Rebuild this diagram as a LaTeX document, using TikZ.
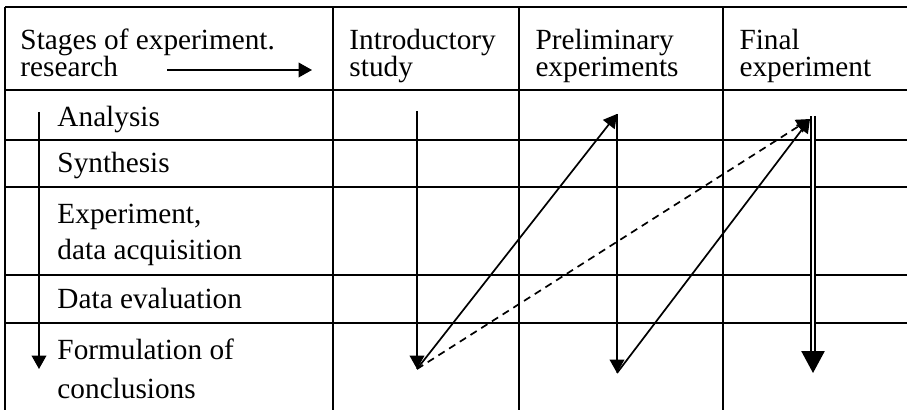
\documentclass[tikz,border=0pt]{standalone}
\usepackage{fontspec}
\setmainfont{Liberation Serif}
\usetikzlibrary{arrows.meta, calc}
\tikzset{
  >=latex,
  % Celle della tabella
  cell/.style={anchor=base west, inner sep=0, font=\fontsize{12}{14}\selectfont},
  grid line/.style={line width=1pt},
  % Frecce
  connect arrow/.style={-{Triangle[length=5.5pt,width=6pt]}, line width=0.7pt},
  connect dashed/.style={connect arrow, dash pattern=on 3pt off 2.2pt},
  connect double/.style={double, line width=0.7pt, double distance=1.2pt},
  big tip/.style={-{Triangle[length=9pt,width=9.5pt]}, line width=0.7pt}
}

\begin{document}
\begin{tikzpicture}[x=0.41pt, y=-0.41pt]
    \useasboundingbox (0,0) rectangle (907,410);
    \foreach \y in {7,90,140,187,275,323}
      \draw[grid line] (5,\y) -- (907,\y);
    \foreach \x in {5,333,519,723}
      \draw[grid line] (\x,7) -- (\x,410);

    \node[cell] (stages) at (20,50) {Stages of experiment.};
    \node[cell] (research) at (20,77) {research};
    \node[cell] (intro) at (349,50) {Introductory};
    \node[cell] (study) at (349,77) {study};
    \node[cell] (prelim) at (535,50) {Preliminary};
    \node[cell] (prelimexp) at (535,77) {experiments};
    \node[cell] (final) at (739,50) {Final};
    \node[cell] (finalexp) at (739,77) {experiment};

    \node[cell] (analysis) at (57,127) {Analysis};
    \node[cell] (synthesis) at (57,173) {Synthesis};
    \node[cell] (experiment) at (57,224) {Experiment,};
    \node[cell] (acquisition) at (57,260) {data acquisition};
    \node[cell] (evaluation) at (57,309) {Data evaluation};
    \node[cell] (formulation) at (57,359) {Formulation of};
    \node[cell] (conclusions) at (57,398) {conclusions};

    \coordinate (head start) at (167,70);
    \coordinate (head end) at (312,70);
    \coordinate (stage top) at (39,112);
    \coordinate (stage bottom) at (39,369);
    \coordinate (intro top) at (417,111);
    \coordinate (intro bottom) at (417,369);
    \coordinate (prelim top) at (617,114);
    \coordinate (prelim bottom) at (617,373);
    \coordinate (final top) at (813,116);
    \coordinate (final join) at (810,119);
    \coordinate (final base) at (813,352);
    \coordinate (final bottom) at (813,373);

    \draw[connect arrow] (head start) -- (head end);
    \draw[connect arrow] (stage top) -- (stage bottom);
    \draw[connect arrow] (intro top) -- (intro bottom);
    \draw[connect arrow] (intro bottom) -- (prelim top);
    \draw[connect dashed] (intro bottom) -- (final join);
    \draw[connect arrow] (prelim top) -- (prelim bottom);
    \draw[connect arrow] (prelim bottom) -- (final join);
    \draw[connect double] (final top) -- (final base);
    \draw[big tip] (final base) -- (final bottom);
  \end{tikzpicture}
\end{document}
